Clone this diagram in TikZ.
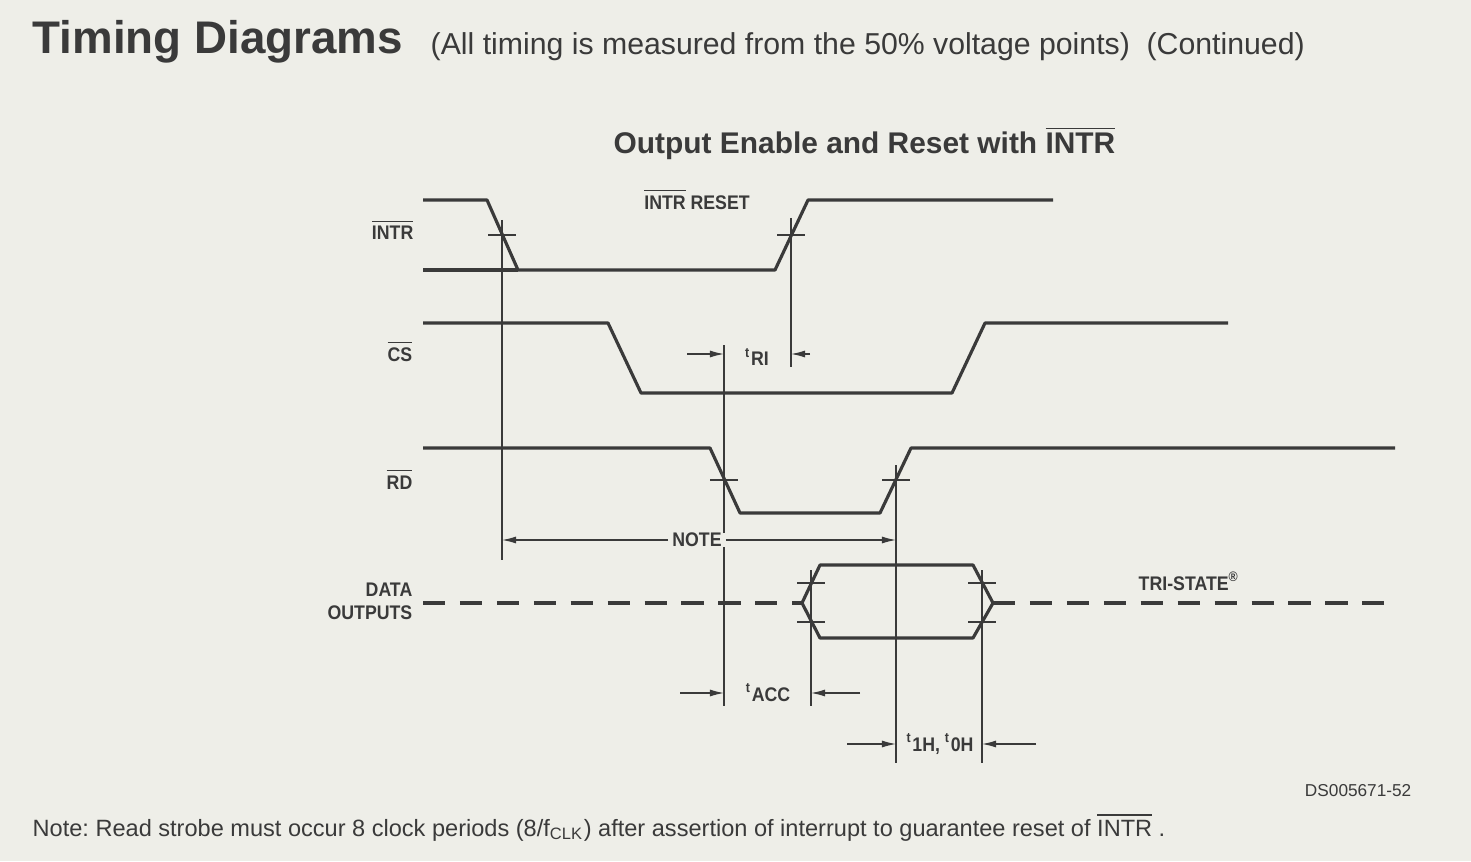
\documentclass[tikz,border=0pt]{standalone}
\usepackage{fontspec}
\setmainfont{Liberation Sans}
\newfontfamily\cond[FakeStretch=0.9]{Liberation Sans}
\usetikzlibrary{arrows.meta,calc}
\definecolor{paper}{RGB}{238,238,232}
\definecolor{ink}{RGB}{58,58,58}
\def\ovl#1{$\overline{\mbox{#1}}$}
\def\tt#1{\textsuperscript{t}#1}
\frenchspacing

\tikzset{
  wave/.style={ink, line width=0.9pt, line join=round},
  tristate/.style={ink, line width=0.9pt, dash pattern=on 6.3pt off 4.2pt},
  guide/.style={ink, line width=0.35pt},
  dim/.style={ink, line width=0.35pt, -{Latex[length=4pt,width=2pt]}},
  lbl/.style={text=ink, inner sep=0pt, font=\cond\bfseries\fontsize{5.6}{6}\selectfont},
  siglbl/.style={lbl, anchor=base east}
}

\begin{document}
\begin{tikzpicture}[x=0.01cm,y=-0.01cm]

\fill[paper] (0,0) rectangle (1471,861);
\useasboundingbox (0,0) rectangle (1471,861);

% titles
\node[anchor=base west, inner sep=0pt, text=ink, font=\bfseries\fontsize{13}{15}\selectfont] (title) at (32,54) {Timing Diagrams};
\node[anchor=base west, inner sep=0pt, text=ink, font=\fontsize{8.6}{10}\selectfont] (subtitle) at (430,55) {(All timing is measured from the 50\% voltage points)\ \ (Continued)};
\node[anchor=base west, inner sep=0pt, text=ink, font=\bfseries\fontsize{8.5}{10}\selectfont] (chart) at (613,154) {Output Enable and Reset with \ovl{INTR}};

% signal names
\node[siglbl] (lINTR) at (414,240) {\ovl{INTR}};
\node[siglbl] (lCS) at (413,361) {\ovl{CS}};
\node[siglbl] (lRD) at (413,489) {\ovl{RD}};
\node[siglbl] (lDATA) at (413,596) {DATA};
\node[siglbl] (lOUT) at (413,619) {OUTPUTS};

% waveforms
\draw[wave] (423,200) -- (487,200) -- (518,270) -- (775,270) -- (808,200) -- (1053,200);
\draw[wave] (423,270) -- (518,270);
\draw[wave] (423,323) -- (608,323) -- (641,393) -- (952,393) -- (985,323) -- (1228,323);
\draw[wave] (423,448) -- (710,448) -- (740,513) -- (880,513) -- (911,448) -- (1395,448);
\draw[tristate] (423,603) -- (802,603);
\draw[wave] (802,603) -- (820,565) -- (973,565) -- (993,603) -- (973,638) -- (820,638) -- cycle;
\draw[tristate] (993,603) -- (1388,603);

% 50% marks
\foreach \x/\y in {502/235, 791/235, 724/480, 896/480, 811/583, 811/622, 982/583, 982/622}
{%
    \draw[guide] (\x-14,\y) -- (\x+14,\y);
}

% guide lines
\coordinate (g1t) at (502,220);  \coordinate (g1b) at (502,560);
\coordinate (g2t) at (791,218);  \coordinate (g2b) at (791,367);
\coordinate (g3t) at (724,345);  \coordinate (g3b) at (724,706);
\coordinate (g4t) at (896,465);  \coordinate (g4b) at (896,763);
\coordinate (g5t) at (811,570);  \coordinate (g5b) at (811,706);
\coordinate (g6t) at (982,570);  \coordinate (g6b) at (982,763);
\foreach \g in {1,...,6}
    \draw[guide] (g\g t) -- (g\g b);

% timing labels
\node[lbl] (reset) at (697,199) {\ovl{INTR} RESET};
\node[lbl] (tRI) at (757,357) {\tt{RI}};
\node[lbl, fill=paper, inner xsep=1pt] (note) at (697,540) {NOTE};
\node[lbl] (tACC) at (768,693) {\tt{ACC}};
\node[lbl] (tH) at (940,744) {\tt{1H}, \tt{0H}};
\node[lbl, anchor=base west] (tri) at (1138,590) {TRI-STATE\textsuperscript{\textregistered}};

% dimension arrows
\draw[dim] ($(g3t |- tRI)+(-37,-3)$) -- ($(g3t |- tRI)+(0,-3)$);
\draw[dim] ($(g2t |- tRI)+(19,-3)$) -- ($(g2t |- tRI)+(0,-3)$);
\draw[dim] (note.west) -- (g1t |- note);
\draw[dim] (note.east) -- (g4t |- note);
\draw[dim] ($(g3t |- tACC)+(-44,0)$) -- (g3t |- tACC);
\draw[dim] ($(g5t |- tACC)+(49,0)$) -- (g5t |- tACC);
\draw[dim] ($(g4t |- tH)+(-49,0)$) -- (g4t |- tH);
\draw[dim] ($(g6t |- tH)+(54,0)$) -- (g6t |- tH);

% footer
\node[anchor=base east, inner sep=0pt, text=ink, font=\fontsize{4.9}{6}\selectfont] (ds) at (1412,796) {DS005671-52};
\node[anchor=base west, inner sep=0pt, text=ink, font=\fontsize{6.7}{8}\selectfont] (footnote) at (32,836) {Note: Read strobe must occur 8 clock periods (8/f\textsubscript{CLK}) after assertion of interrupt to guarantee reset of \ovl{INTR} .};

\end{tikzpicture}
\end{document}
